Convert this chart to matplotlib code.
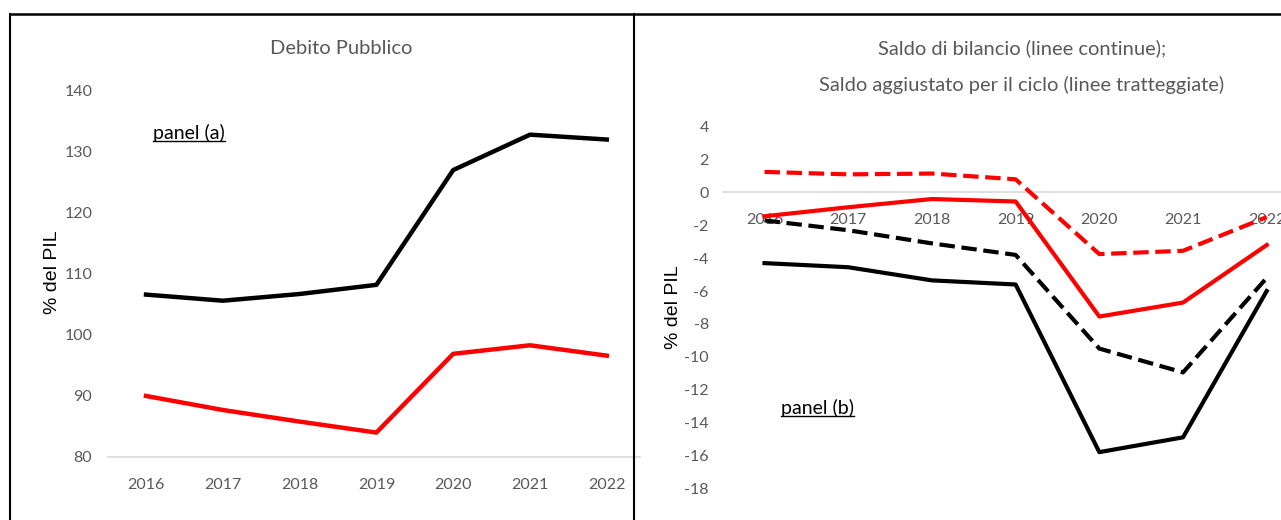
import matplotlib
matplotlib.use('Agg')
from matplotlib import pyplot as plt
from matplotlib.lines import Line2D

years = ['2016', '2017', '2018', '2019', '2020', '2021', '2022']

# panel (a): debito pubblico, % del PIL
debito_nero = [106.6, 105.6, 106.7, 108.2, 127.0, 132.8, 132.0]
debito_rosso = [90.0, 87.7, 85.8, 84.0, 96.9, 98.3, 96.6]

# panel (b): saldo di bilancio (continue) e saldo corretto per il ciclo (tratteggiate)
saldo_nero = [-4.3, -4.55, -5.35, -5.6, -15.8, -14.9, -6.0]
saldo_rosso = [-1.45, -0.9, -0.4, -0.55, -7.55, -6.7, -3.2]
ciclo_nero = [-1.7, -2.3, -3.1, -3.8, -9.5, -10.95, -5.2]
ciclo_rosso = [1.25, 1.1, 1.15, 0.8, -3.75, -3.55, -1.5]

W, H = 1281, 520
GRAY_TXT = '#595959'
GRAY_AX = '#d9d9d9'
NARROW = ['Lato', 'DejaVu Sans']

plt.rcParams['axes.unicode_minus'] = False

fig = plt.figure(figsize=(W / 100, H / 100), dpi=100)


def px_rect(x0, y_top, x1, y_bot):
    return [x0 / W, 1 - y_bot / H, (x1 - x0) / W, (y_bot - y_top) / H]


x = list(range(len(years)))

# ---- panel (a)
ax1 = fig.add_axes(px_rect(107.6, 90.7, 640, 457))
ax1.plot(x, debito_nero, color='black', lw=3.2, zorder=3)
ax1.plot(x, debito_rosso, color='red', lw=3.2, zorder=3)
ax1.set_xlim(-0.5, (640 - 146) / 76.8)
ax1.set_ylim(80, 140)
ax1.set_yticks(range(80, 141, 10))
ax1.set_xticks(x)
ax1.set_xticklabels(years)
for s in ['top', 'right', 'left']:
    ax1.spines[s].set_visible(False)
ax1.spines['bottom'].set_color(GRAY_AX)
ax1.spines['bottom'].set_linewidth(1.2)
ax1.tick_params(axis='both', length=0, labelcolor=GRAY_TXT, labelsize=11.5)
ax1.tick_params(axis='x', pad=15)
ax1.tick_params(axis='y', pad=11)
for lab in ax1.get_xticklabels() + ax1.get_yticklabels():
    lab.set_family(NARROW)
ax1.patch.set_alpha(0)

# ---- panel (b)
ax2 = fig.add_axes(px_rect(722.7, 126.7, 1281, 488.3))
ax2.plot(x, saldo_nero, color='black', lw=3, zorder=3)
ax2.plot(x, ciclo_nero, color='black', lw=3, ls='--', zorder=3)
ax2.plot(x, saldo_rosso, color='red', lw=3, zorder=3)
ax2.plot(x, ciclo_rosso, color='red', lw=3, ls='--', zorder=3)
ax2.set_xlim(-0.5, (1281 - 764.5) / 83.7)
ax2.set_ylim(-18, 4)
ax2.set_yticks(range(-18, 5, 2))
ax2.set_xticks(x)
ax2.set_xticklabels(years)
for s in ['top', 'right', 'left']:
    ax2.spines[s].set_visible(False)
ax2.spines['bottom'].set_position(('data', 0))
ax2.spines['bottom'].set_color(GRAY_AX)
ax2.spines['bottom'].set_linewidth(1.2)
ax2.tick_params(axis='both', length=0, labelcolor=GRAY_TXT, labelsize=11.5)
ax2.tick_params(axis='x', pad=15)
ax2.tick_params(axis='y', pad=10)
for lab in ax2.get_xticklabels() + ax2.get_yticklabels():
    lab.set_family(NARROW)
ax2.patch.set_alpha(0)

# axis labels
fig.text(52 / W, 1 - 272 / H, '% del PIL', rotation=90, ha='center', va='center',
         fontsize=14, family=['Liberation Sans', 'DejaVu Sans'], color='black')
fig.text(673 / W, 1 - 307 / H, '% del PIL', rotation=90, ha='center', va='center',
         fontsize=14, family=['Liberation Sans', 'DejaVu Sans'], color='black')

# titles
fig.text(341 / W, 1 - 48 / H, 'Debito Pubblico', ha='center', va='center',
         fontsize=14.5, family=NARROW, color=GRAY_TXT)
fig.text(1022 / W, 1 - 48 / H, 'Saldo di bilancio (linee continue);', ha='center',
         va='center', fontsize=14.5, family=NARROW, color=GRAY_TXT)
fig.text(1022 / W, 1 - 85 / H, 'Saldo aggiustato per il ciclo (linee tratteggiate)',
         ha='center', va='center', fontsize=14.5, family=NARROW, color=GRAY_TXT)

# panel tags, underlined
tag_a = fig.text(153 / W, 1 - 133 / H, 'panel (a)', ha='left', va='center',
                 fontsize=14, family=NARROW, color='black')
tag_b = fig.text(781 / W, 1 - 408 / H, 'panel (b)', ha='left', va='center',
                 fontsize=14, family=NARROW, color='black')

# chart frames
fig.add_artist(Line2D([9.5 / W, 1], [1 - 14 / H] * 2, transform=fig.transFigure,
                      color='black', lw=1.8))
fig.add_artist(Line2D([9.5 / W] * 2, [0, 1 - 14 / H], transform=fig.transFigure,
                      color='black', lw=1.5))
fig.add_artist(Line2D([634 / W] * 2, [0, 1 - 14 / H], transform=fig.transFigure,
                      color='black', lw=1.5))

fig.canvas.draw()
inv = fig.transFigure.inverted()
for t in (tag_a, tag_b):
    bb = t.get_window_extent().transformed(inv)
    yl = bb.y0 + 1.5 / H
    fig.add_artist(Line2D([bb.x0, bb.x1], [yl, yl], transform=fig.transFigure,
                          color='black', lw=1))

fig.savefig('out.png', dpi=100)
